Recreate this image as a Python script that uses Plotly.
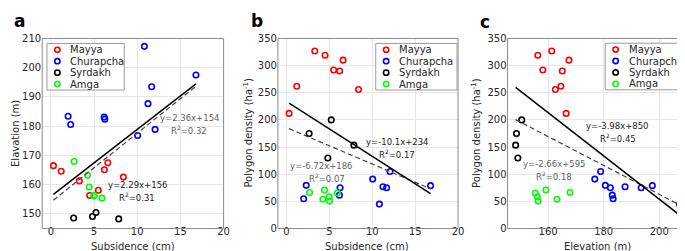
import plotly.graph_objects as go

# ---------------- data ----------------
sites = ["Mayya", "Churapcha", "Syrdakh", "Amga"]
site_colors = ["#ff0000", "#0000ff", "#000000", "#00ff00"]

mayya_subs = [0.3, 1.2, 3.3, 4.5, 5.5, 6.2, 6.6, 8.4]
mayya_elev = [166.5, 164.6, 161.3, 156.3, 158.1, 165.1, 167.5, 162.6]
mayya_dens = [212, 262, 327, 319, 292, 290, 310, 256]

churapcha_subs = [2.0, 2.3, 6.17, 6.25, 10.05, 10.83, 11.25, 11.67, 12.07, 16.8]
churapcha_elev = [183.4, 180.6, 183.1, 182.4, 176.8, 207.3, 187.7, 193.5, 178.9, 197.5]
churapcha_dens = [55, 79.5, 61.5, 75, 91, 45, 77, 75, 105, 79]

syrdakh_subs = [2.64, 4.82, 5.22, 7.86]
syrdakh_elev = [148.6, 149.1, 150.5, 148.3]
syrdakh_dens = [175, 130, 200, 153.5]

amga_subs = [2.7, 4.25, 4.44, 4.98, 5.02, 5.93]
amga_elev = [167.9, 163.2, 159.2, 156.1, 156.4, 155.4]
amga_dens = [66.5, 54, 71, 58.5, 50.5, 65.5]

# regression fits: (slope, intercept, R^2) -> solid / dashed
fit_a_solid = [2.29, 156, 0.31]
fit_a_dashed = [2.36, 154, 0.32]
fit_b_solid = [-10.1, 234, 0.17]
fit_b_dashed = [-6.72, 186, 0.07]
fit_c_solid = [-3.98, 850, 0.45]
fit_c_dashed = [-2.66, 595, 0.18]

x_ticks_sub = [0, 5, 10, 15, 20]
x_ticks_elev = [160, 180, 200]
y_ticks_elev = [150, 160, 170, 180, 190, 200, 210]
y_ticks_dens = [0, 50, 100, 150, 200, 250, 300, 350]

subs_all = [mayya_subs, churapcha_subs, syrdakh_subs, amga_subs]
elev_all = [mayya_elev, churapcha_elev, syrdakh_elev, amga_elev]
dens_all = [mayya_dens, churapcha_dens, syrdakh_dens, amga_dens]

# ---------------- layout helpers ----------------
W, H = 685, 251
FONT = "DejaVu Sans"


def px(x):
    return x / W


def py(y):
    return 1 - y / H


fig = go.Figure()

panels = [
    ("x", "y", subs_all, elev_all, fit_a_solid, fit_a_dashed),
    ("x2", "y2", subs_all, dens_all, fit_b_solid, fit_b_dashed),
    ("x3", "y3", elev_all, dens_all, fit_c_solid, fit_c_dashed),
]

for xa, ya, xs, ys, fs, fd in panels:
    for name, col, xv, yv in zip(sites, site_colors, xs, ys):
        fig.add_trace(go.Scatter(
            x=xv, y=yv, mode="markers", name=name, showlegend=False,
            xaxis=xa, yaxis=ya,
            marker=dict(symbol="circle-open", size=5.5, color=col,
                        line=dict(width=1.6, color=col)),
            hoverinfo="skip"))
    allx = [v for arr in xs for v in arr]
    x0, x1 = min(allx), max(allx)
    for fit, dash, col, w in [(fd, "5px,3px", "#444444", 1.2),
                              (fs, "solid", "#000000", 1.5)]:
        m, b, _ = fit
        fig.add_trace(go.Scatter(
            x=[x0, x1], y=[m * x0 + b, m * x1 + b], mode="lines",
            showlegend=False, xaxis=xa, yaxis=ya,
            line=dict(color=col, width=w, dash=dash), hoverinfo="skip"))

ydom = [py(224.5), py(26.5)]
axis_common = dict(showline=False, showgrid=True, gridcolor="#e6e6e6", gridwidth=1,
                   zeroline=False, ticks="",
                   tickfont=dict(family=FONT, size=10, color="#262626"))
# x tick labels sit a little closer to the frame than Plotly's default
xpos = py(224.5 - 4.5)

fig.update_layout(
    width=W, height=H, margin=dict(l=0, r=0, t=0, b=0),
    paper_bgcolor="white", plot_bgcolor="white", showlegend=False,
    xaxis=dict(domain=[px(34.5), px(217.5)], range=[-1, 20], tickvals=x_ticks_sub,
               anchor="free", position=xpos, **axis_common),
    yaxis=dict(domain=ydom, range=[145, 210], tickvals=y_ticks_elev, anchor="x",
               **axis_common),
    xaxis2=dict(domain=[px(272.3), px(454)], range=[-1, 20], tickvals=x_ticks_sub,
                anchor="free", position=xpos, **axis_common),
    yaxis2=dict(domain=ydom, range=[0, 350], tickvals=y_ticks_dens, anchor="x2",
                **axis_common),
    xaxis3=dict(domain=[px(504), 1.0], range=[145.4, 210], tickvals=x_ticks_elev,
                anchor="free", position=xpos, **axis_common),
    yaxis3=dict(domain=ydom, range=[0, 350], tickvals=y_ticks_dens, anchor="x3",
                **axis_common),
)

ann = []


def text(x, y, s, size=10, color="#262626", xanchor="center", angle=0, bold=False):
    ann.append(dict(x=px(x), y=py(y), xref="paper", yref="paper", text=s,
                    showarrow=False, xanchor=xanchor, yanchor="middle", textangle=angle,
                    font=dict(family=FONT, size=size, color=color,
                              weight="bold" if bold else "normal")))


# panel letters
text(12, 8.5, "a", size=17, color="#000000", bold=True)
text(250.7, 8.5, "b", size=17, color="#000000", bold=True)
text(481.7, 9, "c", size=17, color="#000000", bold=True)

# axis titles
text(126, 243.5, "Subsidence (cm)")
text(362, 243.5, "Subsidence (cm)")
text(594.5, 243.5, "Elevation (m)")
text(7, 125, "Elavation (m)", angle=-90)
text(241.7, 125, "Polygon density (ha<sup>-1</sup>)", angle=-90)
text(472, 125, "Polygon density (ha<sup>-1</sup>)", angle=-90)


def eq(fit):
    m, b, r2 = fit
    return f"y={m:g}x+{b:g}", f"R<sup>2</sup>={r2:.2f}"


GRAY = "#5f5f5f"
BLACK = "#1a1a1a"
for fit, col, (x1, y1), (x2, y2) in [
    (fit_a_dashed, GRAY, (183.5, 109), (183, 122)),
    (fit_a_solid, BLACK, (130.5, 179), (130.3, 192)),
    (fit_b_solid, BLACK, (393, 134.3), (392, 146.7)),
    (fit_b_dashed, GRAY, (316, 159.3), (322, 172)),
    (fit_c_solid, BLACK, (615.3, 117.3), (615.8, 130)),
    (fit_c_dashed, GRAY, (551.7, 157.3), (551.2, 169.3)),
]:
    l1, l2 = eq(fit)
    text(x1, y1, l1, size=8.5, color=col)
    text(x2, y2, l2, size=8.5, color=col)

shapes = []
# axes frames
for xr, yr in [("x", "y"), ("x2", "y2"), ("x3", "y3")]:
    shapes.append(dict(type="rect", xref=f"{xr} domain", yref=f"{yr} domain",
                       x0=0, x1=1, y0=0, y1=1, line=dict(color="#8a8a8a", width=1),
                       layer="above"))

# legends (one per panel)
for left, top, width in [(39.3, 31.7, 78), (371, 31.7, 82), (602.5, 31.5, 80)]:
    shapes.append(dict(type="rect", xref="paper", yref="paper",
                       x0=px(left), x1=px(left + width), y0=py(top), y1=py(top + 48.5),
                       line=dict(color="#9a9a9a", width=1), fillcolor="white", layer="above"))
    for i, (name, col) in enumerate(zip(sites, site_colors)):
        cy = top + 6.6 + i * 11.9
        cx = left + 10.5
        r = 2.7
        shapes.append(dict(type="circle", xref="paper", yref="paper",
                           x0=px(cx - r), x1=px(cx + r), y0=py(cy + r), y1=py(cy - r),
                           line=dict(color=col, width=1.6), layer="above"))
        text(left + 21.5, cy, name, size=10, color="#262626", xanchor="left")

fig.update_layout(annotations=ann, shapes=shapes)
fig.write_html("out.html")
